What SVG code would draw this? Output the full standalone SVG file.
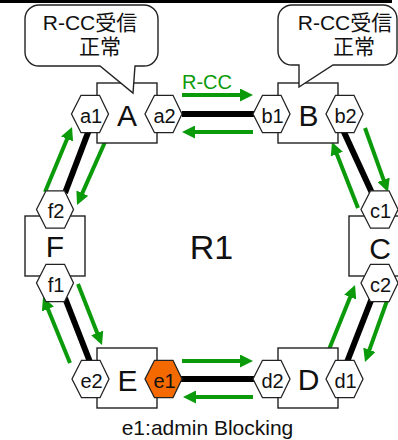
<svg xmlns="http://www.w3.org/2000/svg" width="398" height="440" viewBox="0 0 398 440">
<style>
text{font-family:"Liberation Sans","Noto Sans CJK JP",sans-serif;fill:#111}
.box{fill:#fff;stroke:#222;stroke-width:1.4}
.hex{fill:#fff;stroke:#222;stroke-width:1.3}
.hl{font-size:20px;text-anchor:middle}
.nl{font-size:30px;text-anchor:middle}
.link{stroke:#000;stroke-width:6;fill:none}
.g{stroke:#0A9A0A;stroke-width:4;fill:none;marker-end:url(#ah)}
.call{fill:#fff;stroke:#222;stroke-width:1.4}
.ct{font-size:21px;text-anchor:middle}
</style>
<defs>
<marker id="ah" viewBox="0 0 13 13" refX="3" refY="6.5" markerWidth="13" markerHeight="13" markerUnits="userSpaceOnUse" orient="auto">
<path d="M0,0 L13,6.5 L0,13 z" fill="#0A9A0A"/>
</marker>
<polygon id="hx" points="-18.5,0 -9,-18.7 9.5,-18.7 18.5,0 9.5,18.7 -9,18.7"/>
</defs>
<rect x="0" y="0" width="392" height="3" fill="#000"/>
<g id="connectors">
<line class="link" x1="182" y1="114" x2="254" y2="114"/>
<line class="g" x1="182" y1="95" x2="243" y2="95"/>
<line class="g" x1="253" y1="132" x2="192" y2="132"/>
<line class="link" x1="181" y1="379" x2="254" y2="379"/>
<line class="g" x1="182" y1="361" x2="243" y2="361"/>
<line class="g" x1="253" y1="397" x2="193" y2="397"/>
<line class="link" x1="89" y1="130" x2="65" y2="193"/>
<line class="g" x1="45" y1="192" x2="68.2" y2="136.2"/>
<line class="g" x1="105" y1="142" x2="81.1" y2="195.9"/>
<line class="link" x1="343" y1="130" x2="372" y2="193"/>
<line class="g" x1="358" y1="208" x2="335.7" y2="151.3"/>
<line class="g" x1="365" y1="128" x2="384.6" y2="182.6"/>
<line class="link" x1="65" y1="298" x2="90" y2="362"/>
<line class="g" x1="70" y1="363" x2="46.8" y2="306.3"/>
<line class="g" x1="78" y1="284" x2="98.3" y2="335.7"/>
<line class="link" x1="372" y1="298" x2="347" y2="362"/>
<line class="g" x1="328" y1="352" x2="351.3" y2="294.3"/>
<line class="g" x1="388" y1="298" x2="368.4" y2="352.6"/>
<text x="182" y="89" style="font-size:20px;fill:#0A9A0A">R-CC</text>
</g>
<g id="node-A">
<rect class="box" x="97" y="83" width="60" height="60"/>
<use href="#hx" class="hex" x="90" y="114"/>
<use href="#hx" class="hex" x="163.5" y="114"/>
<text class="hl" x="91" y="122.5">a1</text>
<text class="hl" x="164.5" y="122.5">a2</text>
<text class="nl" x="127" y="126">A</text>
</g>
<g id="node-B">
<rect class="box" x="278" y="83" width="60" height="60"/>
<use href="#hx" class="hex" x="271.5" y="114"/>
<use href="#hx" class="hex" x="344.5" y="114"/>
<text class="hl" x="272.5" y="122.5">b1</text>
<text class="hl" x="345.5" y="122.5">b2</text>
<text class="nl" x="308.5" y="125.5">B</text>
</g>
<g id="node-C">
<rect class="box" x="349" y="216" width="60" height="60"/>
<use href="#hx" class="hex" x="379.5" y="209.5"/>
<use href="#hx" class="hex" x="379.5" y="283"/>
<text class="hl" x="380.5" y="218">c1</text>
<text class="hl" x="380.5" y="291.5">c2</text>
<text class="nl" x="380" y="259">C</text>
</g>
<g id="node-D">
<rect class="box" x="278" y="348" width="60" height="60"/>
<use href="#hx" class="hex" x="271.5" y="379"/>
<use href="#hx" class="hex" x="344.5" y="379"/>
<text class="hl" x="272.5" y="387.5">d2</text>
<text class="hl" x="345.5" y="387.5">d1</text>
<text class="nl" x="308.5" y="390">D</text>
</g>
<g id="node-E">
<rect class="box" x="97" y="348" width="60" height="60"/>
<use href="#hx" class="hex" x="90.5" y="379"/>
<use href="#hx" x="163.5" y="379" style="fill:#F56A00;stroke:#222;stroke-width:1.3"/>
<text class="hl" x="91.5" y="387.5">e2</text>
<text class="hl" x="164.5" y="387.5">e1</text>
<text class="nl" x="127.5" y="390.5">E</text>
</g>
<g id="node-F">
<rect class="box" x="25" y="216" width="60" height="60"/>
<use href="#hx" class="hex" x="55" y="209.5"/>
<use href="#hx" class="hex" x="55" y="283"/>
<text class="hl" x="56" y="218">f2</text>
<text class="hl" x="56" y="291.5">f1</text>
<text class="nl" x="55" y="257">F</text>
</g>
<g id="callout-A">
<path class="call" d="M39,5 H144 A14,14 0 0 1 158,19 V52 A14,14 0 0 1 144,66 H135 L133,93 L100,66 H39 A14,14 0 0 1 25,52 V19 A14,14 0 0 1 39,5 Z"/>
<text class="ct" x="90" y="30">R-CC受信</text>
<text class="ct" x="100" y="54">正常</text>
</g>
<g id="callout-B">
<path class="call" d="M292,5 H383 A14,14 0 0 1 397,19 V51 A14,14 0 0 1 383,65 H333 L299,87 L299,65 H292 A14,14 0 0 1 278,51 V19 A14,14 0 0 1 292,5 Z"/>
<text class="ct" x="345" y="30">R-CC受信</text>
<text class="ct" x="354" y="54">正常</text>
</g>
<text x="211.5" y="259" style="font-size:34px;text-anchor:middle">R1</text>
<text x="207.5" y="435" style="font-size:21px;text-anchor:middle">e1:admin Blocking</text>
</svg>
